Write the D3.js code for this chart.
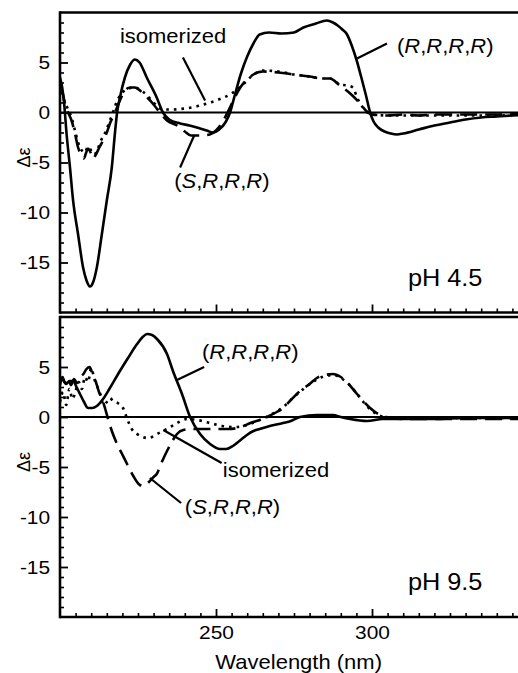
<!DOCTYPE html>
<html><head><meta charset="utf-8">
<script src="https://cdn.jsdelivr.net/npm/d3@7"></script>
<style>body{margin:0;background:#fff}svg{display:block}text{font-family:"Liberation Sans",Arial,sans-serif;fill:#000}</style>
</head><body><svg id="c" width="518" height="673"></svg>
<script>
// ---- data (wavelength nm, Δε) ----
const topRRRR=[[200,3.5],[200.7,2.5],[201.3,1.0],[202.1,-2.1],[203.2,-5.5],[204.2,-8.8],[205.8,-12.2],[207.4,-15.5],[208.5,-16.8],[209.6,-17.4],[210.7,-16.9],[211.8,-15.5],[213.4,-12.2],[215,-8.8],[216.6,-5.5],[217.6,-2.1],[218.3,0],[219.2,1.5],[220.8,3.5],[222.5,4.8],[224,5.3],[225.5,5.0],[227.8,3.5],[231,1.5],[233,0],[235,-0.7],[238.5,-1.1],[241.5,-1.3],[244.9,-1.6],[247,-1.8],[249,-2.0],[251,-1.7],[253,-1.0],[254.5,0],[256,1.7],[258,3.9],[260,5.6],[262,6.9],[264,7.8],[267,8.0],[271,7.9],[275,8.0],[278,8.5],[282,8.9],[285.5,9.2],[287.5,9.0],[289,8.7],[290.5,8.3],[292,7.8],[293.5,6.7],[295,5.3],[296.5,3.6],[298,1.8],[299.4,0],[300.5,-0.9],[302,-1.5],[304,-1.9],[306,-2.1],[308,-2.2],[310,-2.1],[315,-1.7],[320,-1.3],[325,-1.0],[330,-0.7],[335,-0.5],[340,-0.4],[345,-0.3],[350,-0.2]];
const topSRRR=[[200,2.5],[200.8,2.0],[201.6,0.9],[202.6,0],[203.7,-0.8],[204.8,-2.1],[205.8,-3.5],[207,-4.3],[207.6,-4.6],[208.4,-4.0],[209,-3.6],[209.8,-4.0],[210.6,-4.6],[211.5,-4.2],[212.6,-3.5],[213.8,-2.8],[215,-2.0],[216,-1.1],[217.6,0],[219.2,1.2],[220.8,2.2],[222.5,2.5],[224,2.5],[226,2.1],[228,1.5],[230,0.8],[232,0],[234.3,-0.8],[237.5,-1.3],[240,-1.9],[242,-2.3],[245,-2.3],[248,-2.2],[250,-1.8],[252,-1.0],[254,0.2],[256,1.5],[258,2.6],[260,3.3],[262,3.8],[265,4.1],[270,4.0],[275,3.8],[280,3.6],[284,3.4],[286.5,3.4],[289.7,2.7],[293,1.9],[296.2,0.9],[298,0.2],[300,-0.2],[305,-0.3],[310,-0.2],[315,-0.3],[320,-0.2],[330,-0.2],[340,-0.2],[350,-0.1]];
const topIso=[[200,2.0],[200.8,1.6],[201.6,1.0],[202.6,0.3],[203.7,-0.5],[204.8,-1.8],[205.8,-3.0],[207,-3.8],[208,-4.0],[209,-3.4],[210,-3.8],[211,-4.2],[212,-3.7],[213,-2.9],[214.5,-2.0],[216,-0.8],[217.3,0.3],[218.5,1.3],[220,2.0],[222,2.4],[224,2.5],[226,2.2],[228,1.7],[230,1.0],[231.5,0.5],[233,0.3],[236,0.3],[240,0.4],[245,0.7],[250,1.2],[255,1.9],[259,2.9],[262,3.8],[265,4.2],[270,4.1],[275,3.8],[280,3.6],[284,3.4],[286.5,3.4],[289.7,2.8],[292,2.7],[293.9,2.5],[295.2,1.5],[297.1,0.5],[298.5,0],[300,-0.2],[305,-0.3],[310,-0.3],[320,-0.3],[330,-0.3],[340,-0.3],[350,-0.2]];
const botRRRR=[[200,3.9],[201,3.7],[202,3.3],[203,3.6],[204.2,3.6],[205.3,3.0],[206.4,2.3],[207.7,1.5],[209,0.9],[210.4,0.9],[211.8,1.1],[213.8,1.8],[216,2.9],[219.2,4.6],[221.8,5.9],[224.7,7.3],[226.5,8.0],[227.9,8.3],[229.5,8.2],[231.1,7.8],[234.3,6.3],[236.2,4.6],[239.1,2.3],[241.7,0],[244.9,-1.7],[248.1,-2.7],[251.3,-3.2],[253.3,-3.2],[255.4,-2.9],[257.5,-2.4],[259.9,-1.8],[262,-1.4],[264,-1.2],[266.2,-1.0],[271.5,-0.6],[274,-0.4],[276.9,0],[282.4,0.2],[287.5,0.2],[290,0],[293,-0.2],[298.4,-0.4],[303.5,-0.2],[310,-0.2],[320,-0.2],[330,-0.1],[340,-0.1],[350,-0.1]];
const botSRRR=[[200,3.2],[200.8,4.0],[201.6,3.4],[202.5,3.9],[203.5,3.2],[204.5,3.8],[205.5,3.4],[206.5,4.0],[207.5,4.3],[208.5,4.8],[209.5,5.0],[210.5,4.2],[211.5,3.5],[212.5,2.5],[213.5,1.8],[214.5,0.8],[215.5,-0.3],[216.5,-1.3],[218,-2.5],[219.9,-3.7],[221.5,-4.7],[223.5,-5.9],[225.6,-6.8],[226.8,-6.9],[228.5,-6.5],[230,-6.0],[231,-5.7],[232.5,-4.6],[234.3,-3.4],[236,-2.4],[237.5,-1.7],[239.5,-1.3],[242,-1.2],[246,-1.2],[250,-1.2],[254,-1.2],[258,-1.0],[261,-0.6],[264,-0.3],[267,0.1],[269.5,0.5],[271.5,0.9],[274,1.7],[276.9,2.6],[280,3.3],[282.3,3.9],[285,4.2],[287.5,4.3],[290,4.0],[292.5,3.3],[295.2,2.3],[297.5,1.5],[299.4,0.9],[301.5,0.4],[303.5,0.1],[306,-0.1],[310,-0.2],[320,-0.2],[330,-0.2],[340,-0.2],[350,-0.2]];
const botIso=[[200,1.5],[201,2.5],[202,1.2],[203,2.8],[204,1.8],[205,2.6],[206,3.5],[207,2.8],[208,4.0],[209,3.5],[210,4.9],[211,3.8],[212,3.0],[213,2.2],[214,1.2],[215,1.5],[216,1.9],[217,1.6],[218.5,1.4],[220.2,0.9],[221.8,-0.4],[223,-1.2],[224.7,-1.7],[226.5,-2.0],[228,-2.1],[229.5,-2.0],[231.1,-1.7],[234.3,-1.2],[237.5,-0.6],[240.7,-0.2],[244,-0.3],[248,-0.6],[252,-0.9],[256,-1.0],[260,-0.8],[264,-0.3],[268,0.3],[271.5,1.0],[275,2.0],[278,2.8],[281,3.5],[284,4.0],[287.5,4.2],[290,3.9],[292.5,3.3],[295,2.4],[297.5,1.4],[300,0.6],[302,0.2],[304,0],[310,-0.1],[320,-0.1],[330,-0.1],[340,-0.1],[350,-0.1]];
const xMajor=[250,300];
const yMajor=[-15,-10,-5,0,5];
const panelNames=["pH 4.5","pH 9.5"];
const xTitle="Wavelength (nm)";
const yTitle="Δε";
// annotations [wavelength, Δε] in data units
const topAnn={iso:{t:[219.2,7.7],l:[[239.4,5.5],[246.5,1.2]]},rrrr:{t:[308,6.7],l:[[295.2,5.4],[304.8,6.9]]},srrr:{t:[236.6,-6.8],l:[[238.5,-5.5],[243,-2.3]]}};
const botAnn={iso:{t:[252.2,-5.3],l:[[233.1,-1.3],[251.8,-4.6]]},rrrr:{t:[245.5,6.5],l:[[237.5,3.7],[246.2,5.0]]},srrr:{t:[240,-9.0],l:[[228.8,-6.1],[238.8,-8.6]]}};

const SX=1.1;
const svg=d3.select("#c");
const x=d3.scaleLinear().domain([200,350]).range([60,528]);
const panels=[
 {y:d3.scaleLinear().domain([-20,10]).range([312.5,12.5]),s:[topRRRR,topSRRR,topIso],ann:topAnn,name:panelNames[0],labels:false},
 {y:d3.scaleLinear().domain([-20,10]).range([617,317]),s:[botRRRR,botSRRR,botIso],ann:botAnn,name:panelNames[1],labels:true}
];
function stext(g,px,py,size,anchor){
  return g.append("text").attr("transform",`translate(${px},${py}) scale(${SX},1)`).attr("font-size",size).attr("text-anchor",anchor||"start");
}
function chiral(g,px,py,first){
  const t=stext(g,px,py,20).attr("dy","0.35em");
  t.append("tspan").text("(");
  [first,"R","R","R"].forEach((c,i)=>{t.append("tspan").attr("font-style","italic").text(c);t.append("tspan").text(i<3?",":")");});
}
panels.forEach((p,i)=>{
  const y=p.y;const g=svg.append("g");
  const [yb,yt]=y.range();
  const cid="clip"+i;
  svg.append("clipPath").attr("id",cid).append("rect").attr("x",60).attr("y",yt).attr("width",468).attr("height",yb-yt);
  g.append("line").attr("x1",x(200)).attr("x2",x(350)).attr("y1",y(0)).attr("y2",y(0)).attr("stroke","#000").attr("stroke-width",1.8);
  const line=d3.line().x(d=>x(d[0])).y(d=>y(d[1])).curve(d3.curveMonotoneX);
  const styles=[{da:null},{da:"17,8"},{da:"2.6,5"}];
  p.s.forEach((s,k)=>{
    g.append("path").attr("clip-path",`url(#${cid})`).attr("d",line(s)).attr("fill","none").attr("stroke","#000").attr("stroke-width",2.6).attr("stroke-dasharray",styles[k].da);
  });
  const yMinor=d3.range(-19,10).filter(v=>v%5!==0);
  g.append("g").attr("transform","translate(60,0)").call(d3.axisLeft(y).tickValues(yMinor).tickSize(-4).tickSizeOuter(0).tickFormat("")).call(a=>a.select(".domain").remove()).selectAll("line").attr("stroke-width",1.6);
  const ya=g.append("g").attr("transform","translate(60,0)").call(d3.axisLeft(y).tickValues(yMajor).tickSize(-8).tickSizeOuter(0).tickPadding(9).tickFormat(d=>String(d)));
  ya.select(".domain").remove();
  ya.selectAll("line").attr("stroke-width",1.8);
  ya.selectAll("text").attr("font-size",19).attr("font-family","Liberation Sans, Arial, sans-serif").attr("transform",`scale(${SX},1)`);
  const xMinor=d3.range(205,350,5).filter(v=>v%50!==0);
  g.append("g").attr("transform",`translate(0,${yb})`).call(d3.axisBottom(x).tickValues(xMinor).tickSize(-4).tickSizeOuter(0).tickFormat("")).call(a=>a.select(".domain").remove()).selectAll("line").attr("stroke-width",1.6);
  const xa=g.append("g").attr("transform",`translate(0,${yb})`).call(d3.axisBottom(x).tickValues(xMajor).tickSize(-8).tickSizeOuter(0).tickPadding(9).tickFormat(p.labels?(d=>String(d)):""));
  xa.select(".domain").remove();
  xa.selectAll("line").attr("stroke-width",1.8);
  xa.selectAll("text").attr("font-size",19).attr("font-family","Liberation Sans, Arial, sans-serif").attr("transform",`scale(${SX},1)`);
  g.append("line").attr("x1",60).attr("x2",528).attr("y1",yt).attr("y2",yt).attr("stroke","#000").attr("stroke-width",2.4);
  g.append("line").attr("x1",60).attr("x2",528).attr("y1",yb).attr("y2",yb).attr("stroke","#000").attr("stroke-width",2.6);
  g.append("line").attr("x1",60).attr("x2",60).attr("y1",yt-1.2).attr("y2",yb+1.3).attr("stroke","#000").attr("stroke-width",2.6);
  g.append("text").attr("transform",`translate(30,${(y(-4.5))}) rotate(-90)`).attr("text-anchor","middle").attr("font-size",18).text(yTitle);
  const a=p.ann;
  [a.iso,a.rrrr,a.srrr].forEach(o=>{
    g.append("line").attr("x1",x(o.l[0][0])).attr("y1",y(o.l[0][1])).attr("x2",x(o.l[1][0])).attr("y2",y(o.l[1][1])).attr("stroke","#000").attr("stroke-width",2.2);
  });
  stext(g,x(a.iso.t[0]),y(a.iso.t[1]),20).attr("dy","0.35em").text("isomerized");
  chiral(g,x(a.rrrr.t[0]),y(a.rrrr.t[1]),"R");
  chiral(g,x(a.srrr.t[0]),y(a.srrr.t[1]),"S");
  stext(g,x(311.5),y(-17.3),23).text(p.name);
});
stext(svg,x(276.5),669,20,"middle").text(xTitle);
</script></body></html>
